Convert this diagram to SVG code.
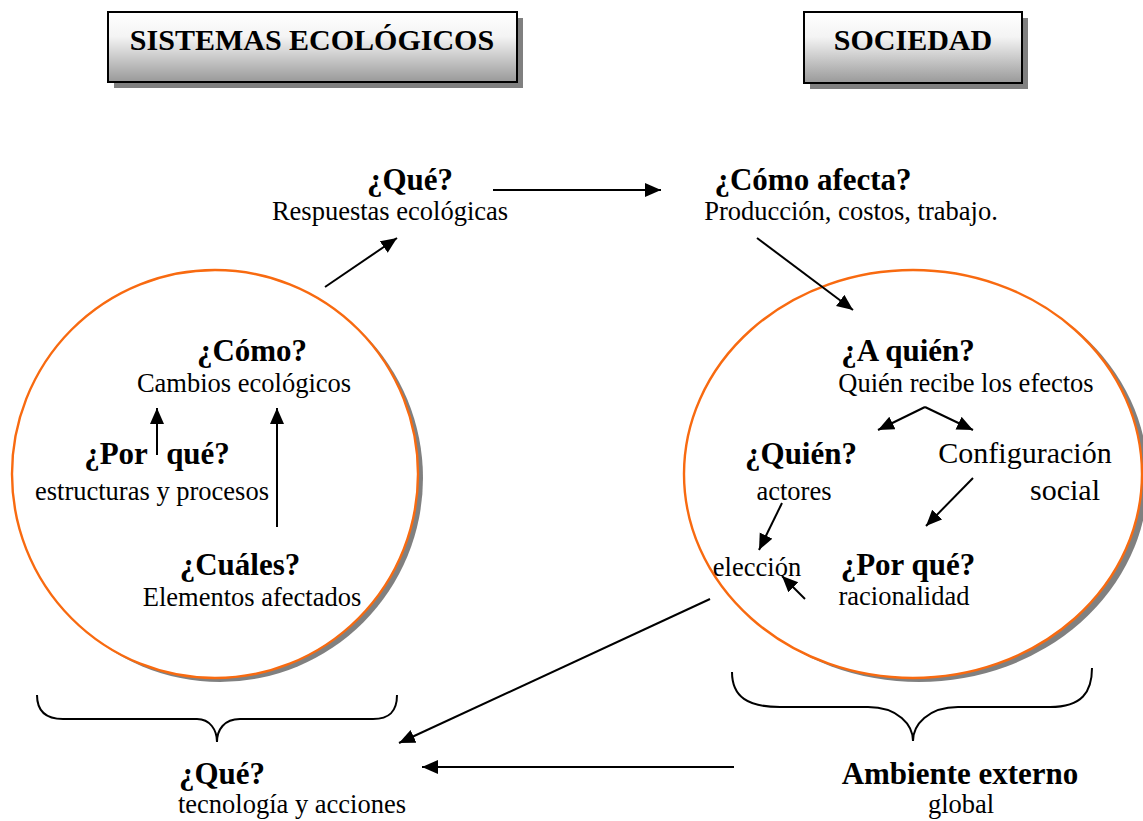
<svg xmlns="http://www.w3.org/2000/svg" width="1143" height="821" viewBox="0 0 1143 821">
<style>
.b{font-family:"Liberation Serif","Times New Roman",serif;font-weight:bold;font-size:31px;fill:#000;text-anchor:middle}
.r{font-family:"Liberation Serif","Times New Roman",serif;font-size:26.5px;fill:#000;text-anchor:middle}
.big{font-family:"Liberation Serif","Times New Roman",serif;font-size:30px;fill:#000;text-anchor:middle}
.t{font-family:"Liberation Serif","Times New Roman",serif;font-weight:bold;font-size:30px;fill:#000;text-anchor:middle}
.ln{stroke:#000;stroke-width:2;fill:none}
.ar{stroke:#000;stroke-width:2;fill:none;marker-end:url(#ah)}
.circ{fill:#fff;stroke:#f86a10;stroke-width:2.4}
.sh{fill:#808080}
.box{fill:url(#g);stroke:#000;stroke-width:2}
</style>
<defs>
<linearGradient id="g" x1="0" y1="0" x2="0" y2="1">
<stop offset="0" stop-color="#ffffff"/>
<stop offset="0.35" stop-color="#f4f4f4"/>
<stop offset="1" stop-color="#999999"/>
</linearGradient>
<marker id="ah" markerUnits="userSpaceOnUse" markerWidth="18" markerHeight="16" refX="16" refY="7" orient="auto">
<path d="M0,0 L16,7 L0,14 z" fill="#000"/>
</marker>
</defs>
<rect width="1143" height="821" fill="#fff"/>

<g id="title-ecologicos">
<rect class="sh" x="114" y="18" width="409" height="70"/>
<rect class="box" x="108" y="12" width="409" height="70"/>
<text class="t" x="312" y="50">SISTEMAS ECOLÓGICOS</text>
</g>
<g id="title-sociedad">
<rect class="sh" x="810" y="18" width="218" height="71"/>
<rect class="box" x="804" y="12" width="218" height="71"/>
<text class="t" x="913" y="50">SOCIEDAD</text>
</g>

<g id="circle-left">
<ellipse class="sh" cx="220" cy="478" rx="203" ry="204"/>
<ellipse class="circ" cx="215" cy="474" rx="203" ry="204"/>
</g>
<g id="circle-right">
<ellipse class="sh" cx="919" cy="478" rx="229" ry="204"/>
<ellipse class="circ" cx="913" cy="474" rx="229" ry="204"/>
</g>

<g id="node-que-top">
<text class="b" x="410" y="190">¿Qué?</text>
<text class="r" x="390" y="220">Respuestas ecológicas</text>
</g>
<g id="node-como-afecta">
<text class="b" x="813" y="190">¿Cómo afecta?</text>
<text class="r" x="851" y="220">Producción, costos, trabajo.</text>
</g>
<g id="node-como">
<text class="b" x="252" y="361">¿Cómo?</text>
<text class="r" x="244" y="392">Cambios ecológicos</text>
</g>
<g id="node-porque-left">
<text class="b" x="116" y="464">¿Por</text>
<text class="b" x="198" y="464">qué?</text>
<text class="r" x="152" y="500">estructuras y procesos</text>
</g>
<g id="node-cuales">
<text class="b" x="240" y="575">¿Cuáles?</text>
<text class="r" x="252" y="606">Elementos afectados</text>
</g>
<g id="node-a-quien">
<text class="b" x="908" y="361">¿A quién?</text>
<text class="r" x="966" y="392">Quién recibe los efectos</text>
</g>
<g id="node-quien">
<text class="b" x="801" y="464">¿Quién?</text>
<text class="r" x="794" y="500">actores</text>
</g>
<g id="node-configuracion">
<text class="big" x="1025" y="463">Configuración</text>
<text class="big" x="1065" y="500">social</text>
</g>
<g id="node-eleccion">
<text class="r" x="757" y="576">elección</text>
</g>
<g id="node-porque-right">
<text class="b" x="908" y="575">¿Por qué?</text>
<text class="r" x="904" y="605">racionalidad</text>
</g>
<g id="node-que-bottom">
<text class="b" x="222" y="784">¿Qué?</text>
<text class="r" x="292" y="813">tecnología y acciones</text>
</g>
<g id="node-ambiente">
<text class="b" x="960" y="784">Ambiente externo</text>
<text class="r" x="961" y="813">global</text>
</g>

<g id="braces">
<path class="ln" d="M37,695 C37,712 47,719 63,719 L197,719 C210,719 217,730 217,742 C217,730 224,719 240,719 L373,719 C389,719 397,712 397,695"/>
<path class="ln" d="M732,672 C732,697 748,707 780,707 L868,707 C898,707 913,725 913,741 C913,725 928,707 958,707 L1050,707 C1082,707 1092,692 1092,668"/>
</g>

<g id="connectors">
<line class="ar" x1="493" y1="190" x2="661" y2="190"/>
<line class="ar" x1="325" y1="287" x2="397" y2="238"/>
<line class="ar" x1="757" y1="238" x2="853" y2="310"/>
<line class="ar" x1="157" y1="455" x2="157" y2="408"/>
<line class="ar" x1="277" y1="527" x2="277" y2="408"/>
<line class="ar" x1="925" y1="407" x2="878" y2="430"/>
<line class="ar" x1="925" y1="407" x2="973" y2="430"/>
<line class="ar" x1="782" y1="503" x2="759" y2="550"/>
<line class="ar" x1="973" y1="478" x2="926" y2="526"/>
<line class="ar" x1="805" y1="599" x2="782" y2="576"/>
<line class="ar" x1="710" y1="599" x2="399" y2="743"/>
<line class="ar" x1="734" y1="767" x2="422" y2="767"/>
</g>
</svg>
